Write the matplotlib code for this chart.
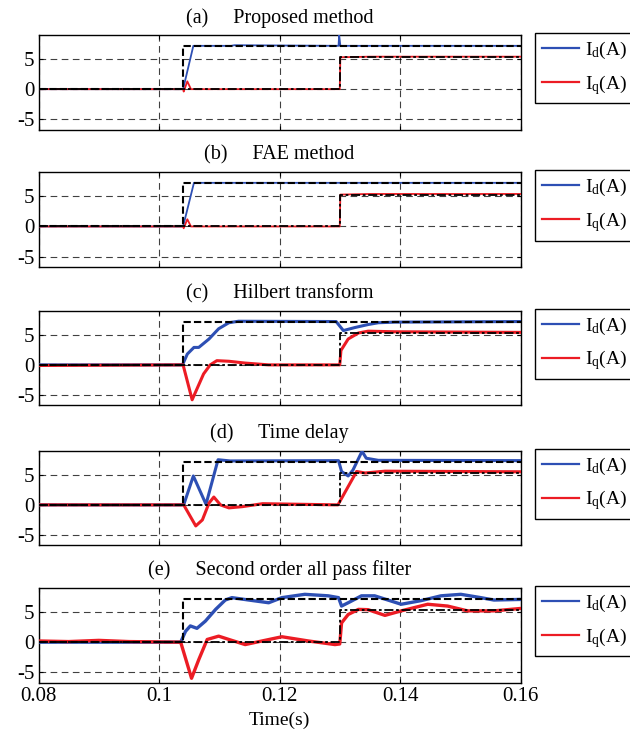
import numpy as np
import matplotlib
matplotlib.use('Agg')
import matplotlib.pyplot as plt
from matplotlib.lines import Line2D

plt.rcParams['font.family'] = 'Liberation Serif'
plt.rcParams['mathtext.fontset'] = 'custom'
plt.rcParams['mathtext.rm'] = 'Liberation Serif'
plt.rcParams['mathtext.it'] = 'Liberation Serif:italic'

#--------------------------------------------------------------
# Données
#--------------------------------------------------------------

titles = ['(a)     Proposed method', '(b)     FAE method', '(c)     Hilbert transform',
          '(d)     Time delay', '(e)     Second order all pass filter']

x_ticks = [0.08, 0.1, 0.12, 0.14, 0.16]
x_ticklabels = ['0.08', '0.1', '0.12', '0.14', '0.16']
y_ticks = [-5, 0, 5]
y_ticklabels = ['-5', '0', '5']

# references (identiques pour tous les graphes)
t_ref_id = [0.08, 0.104, 0.104, 0.16]
id_ref = [0, 0, 7.2, 7.2]
t_ref_iq = [0.08, 0.13, 0.13, 0.16]
iq_ref = [0, 0, 5.3, 5.3]

# (a) proposed
t_a_id = [0.08, 0.104, 0.1057, 0.112, 0.1125, 0.1298, 0.1299, 0.1301, 0.16]
id_a = [0, 0, 7.2, 7.2, 7.3, 7.2, 9.0, 7.2, 7.2]
t_a_iq = [0.08, 0.104, 0.1041, 0.1047, 0.1053, 0.13, 0.1301, 0.135, 0.16]
iq_a = [0, 0, -0.4, 1.3, 0, 0, 5.3, 5.4, 5.4]

# (b) FAE
t_b_id = [0.08, 0.104, 0.1058, 0.16]
id_b = [0, 0, 7.25, 7.25]
t_b_iq = [0.08, 0.104, 0.1041, 0.1047, 0.1053, 0.13, 0.1301, 0.135, 0.16]
iq_b = [0, 0, -0.3, 1.2, 0, 0, 5.3, 5.4, 5.4]

# (c) Hilbert
t_c_id = [0.08, 0.1039, 0.1047, 0.1058, 0.1066, 0.1083, 0.1099, 0.1116, 0.1132,
          0.1294, 0.1306, 0.1325, 0.1347, 0.1364, 0.1391, 0.16]
id_c = [0, 0, 1.8, 2.9, 2.9, 4.3, 6.0, 7.0, 7.25,
        7.2, 5.7, 6.2, 6.7, 7.0, 7.1, 7.2]
t_c_iq = [0.08, 0.104, 0.1055, 0.1074, 0.1085, 0.1096, 0.1116, 0.1143, 0.1182,
          0.13, 0.1302, 0.1314, 0.1331, 0.1347, 0.1391, 0.16]
iq_c = [-0.1, 0, -5.8, -1.5, 0, 0.7, 0.6, 0.3, 0,
        0, 2.4, 4.3, 5.3, 5.6, 5.5, 5.4]

# (d) time delay
t_d_id = [0.08, 0.1041, 0.1057, 0.1078, 0.1098, 0.1118, 0.1298, 0.1303, 0.1314,
          0.1322, 0.1337, 0.1344, 0.1364, 0.16]
id_d = [0, 0, 4.8, 0.1, 7.5, 7.3, 7.35, 5.55, 4.8,
        5.8, 8.9, 7.75, 7.4, 7.35]
t_d_iq = [0.08, 0.1041, 0.1061, 0.1072, 0.1083, 0.1091, 0.1102, 0.1116, 0.1138,
          0.1172, 0.1297, 0.1328, 0.1342, 0.1375, 0.16]
iq_d = [0, 0, -3.5, -2.5, 0.3, 1.3, 0, -0.5, -0.3,
        0.2, 0, 5.55, 5.3, 5.6, 5.5]

# (e) second order all pass filter
t_e_id = [0.08, 0.1036, 0.1044, 0.1052, 0.1063, 0.1077, 0.1094, 0.111, 0.1121,
          0.1149, 0.1182, 0.1204, 0.1242, 0.1281, 0.1298, 0.1303, 0.1314, 0.1336,
          0.1358, 0.1402, 0.1435, 0.1468, 0.1501, 0.1534, 0.1556, 0.16]
id_e = [0, 0, 1.8, 2.7, 2.3, 3.5, 5.45, 7.0, 7.4,
        7.0, 6.55, 7.4, 7.95, 7.7, 7.4, 6.0, 6.55, 7.7,
        7.7, 6.3, 6.9, 7.7, 7.95, 7.4, 7.0, 7.1]
t_e_iq = [0.08, 0.085, 0.09, 0.095, 0.1036, 0.1054, 0.1066, 0.108, 0.1099,
          0.1116, 0.1143, 0.1171, 0.1204, 0.1248, 0.1292, 0.13, 0.1303, 0.1314,
          0.1331, 0.1347, 0.1375, 0.1402, 0.1446, 0.1479, 0.1512, 0.1556, 0.16]
iq_e = [0.2, 0.1, 0.3, 0.1, 0, -6.0, -2.9, 0.45, 1.0,
        0.45, -0.4, 0.2, 0.9, 0.2, -0.4, -0.3, 3.2, 4.6,
        5.45, 5.4, 4.45, 5.2, 6.3, 6.0, 5.2, 5.2, 5.6]

id_t = [t_a_id, t_b_id, t_c_id, t_d_id, t_e_id]
id_v = [id_a, id_b, id_c, id_d, id_e]
iq_t = [t_a_iq, t_b_iq, t_c_iq, t_d_iq, t_e_iq]
iq_v = [iq_a, iq_b, iq_c, iq_d, iq_e]
line_w = [1.3, 1.3, 2.2, 2.2, 2.4]

blue = '#2d4fb4'
red = '#ec1c24'

#--------------------------------------------------------------
# Figure
#--------------------------------------------------------------

fig = plt.figure(figsize=(6.3, 7.38), dpi=100)
W, H = 630.0, 738.0
tops = [35, 172.3, 310.7, 450.7, 588]
ax_h = 94.5

for i in range(5):
    ax = fig.add_axes([38.5 / W, 1 - (tops[i] + ax_h) / H, 482 / W, ax_h / H])
    ax.plot(id_t[i], id_v[i], color=blue, lw=line_w[i], zorder=3)
    ax.plot(iq_t[i], iq_v[i], color=red, lw=line_w[i], zorder=3)
    ax.plot(t_ref_id, id_ref, color='black', lw=1.5, ls=(0, (3.5, 1.5)), zorder=4)
    ax.plot(t_ref_iq, iq_ref, color='black', lw=1.3, ls=(0, (5, 1.5, 1.5, 1.5)), zorder=4)

    ax.set_xlim(0.08, 0.16)
    ax.set_ylim(-6.7, 9.0)
    ax.set_xticks(x_ticks)
    ax.set_yticks(y_ticks)
    ax.set_yticklabels(y_ticklabels)
    if i == 4:
        ax.set_xticklabels(x_ticklabels)
        ax.set_xlabel('Time(s)', fontsize=14, labelpad=4)
    else:
        ax.set_xticklabels([])
    ax.tick_params(direction='in', length=3, top=True, right=True, labelsize=15, pad=3)
    ax.grid(True, color='black', lw=0.8, ls=(0, (6, 4)), alpha=0.75)
    for s in ax.spines.values():
        s.set_linewidth(1.0)
    ax.set_title(titles[i], fontsize=14.5, pad=9)

    h1 = Line2D([], [], color=blue, lw=1.6)
    h2 = Line2D([], [], color=red, lw=1.6)
    leg = ax.legend([h1, h2], [r'I$_\mathrm{d}$(A)', r'I$_\mathrm{q}$(A)'],
                    loc='upper left', bbox_to_anchor=(1.031, 1.02), borderaxespad=0,
                    fontsize=14, handlelength=1.9, handletextpad=0.3, borderpad=0.35,
                    frameon=True, fancybox=False,
                    edgecolor='black', framealpha=1, labelspacing=0.6)
    leg.get_frame().set_linewidth(1.0)

plt.savefig('out.png', dpi=100)
